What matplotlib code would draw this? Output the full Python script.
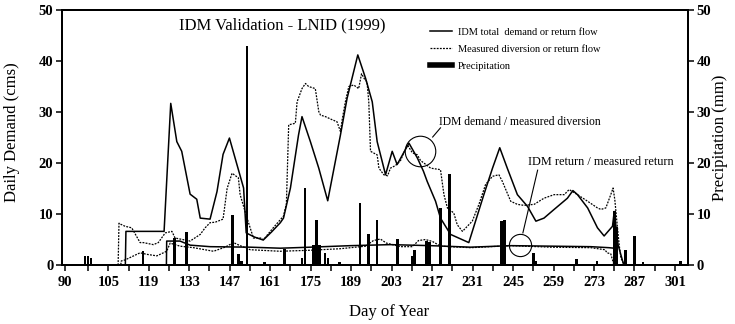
import matplotlib
matplotlib.use("Agg")
import matplotlib.pyplot as plt
from matplotlib.lines import Line2D

plt.rcParams["font.family"] = ["Liberation Serif", "DejaVu Serif"]

# ---- data -------------------------------------------------------------
# IDM total demand (cms)
idm_day = [88.9, 110.9, 111.1, 124.3, 126.6, 128.7, 130.4, 133.3, 135.6, 136.8,
           140.2, 142.6, 144.7, 146.9, 149.5, 151.8, 152.7, 155.5, 158.6, 161.5,
           164.5, 165.6, 168.0, 170.8, 172.0, 174.9, 177.8, 180.9, 185.3, 187.6,
           191.3, 194.0, 196.3, 198.0, 200.9, 203.2, 204.9, 209.0, 211.9, 214.0,
           215.3, 218.2, 219.9, 223.4, 229.7, 234.9, 237.9, 240.4, 243.0, 246.5,
           250.0, 252.9, 255.7, 259.2, 263.8, 265.7, 267.3, 270.8, 274.2, 276.5,
           279.4, 280.0, 281.3, 282.9, 283.3, 305.5]
idm_val = [0, 0, 6.6, 6.6, 31.7, 24.2, 22.3, 13.9, 12.9, 9.2,
           9.0, 14.4, 21.7, 24.9, 19.7, 15.1, 6.3, 5.5, 4.9, 6.5,
           8.3, 9.2, 15.1, 25.5, 29.1, 24.2, 19.0, 12.6, 25.5, 32.7,
           41.2, 36.6, 32.0, 24.2, 17.7, 22.3, 19.7, 23.9, 21.0, 18.4,
           16.4, 12.5, 9.2, 6.0, 4.4, 13.8, 19.0, 23.0, 19.0, 13.8,
           11.5, 8.6, 9.2, 10.9, 13.1, 14.6, 13.8, 11.2, 7.3, 5.7,
           7.6, 10.5, 4.0, 0.8, 0, 0]

# Measured diversion (cms)
div_day = [88.9, 108.4, 108.7, 109.3, 110.8, 113.1, 116.0, 117.1, 120.6, 122.3,
           124.7, 127.0, 128.1, 133.3, 136.8, 138.5, 140.2, 142.0, 144.7, 146.1,
           147.8, 150.0, 150.6, 153.0, 155.2, 157.6, 158.7, 162.2, 165.6, 166.6,
           167.4, 169.7, 170.3, 172.0, 173.2, 174.3, 176.6, 177.8, 178.4, 180.1,
           182.4, 184.1, 185.3, 185.9, 187.0, 188.2, 189.9, 191.6, 192.6, 193.6,
           194.5, 195.1, 195.7, 198.0, 198.6, 200.3, 201.6, 202.6, 204.3, 206.1,
           208.4, 210.2, 211.9, 213.0, 216.5, 219.9, 221.1, 222.3, 224.5, 225.7,
           227.5, 229.7, 230.9, 233.2, 235.5, 237.9, 240.1, 241.3, 243.0, 244.2,
           246.5, 248.8, 252.3, 255.7, 259.2, 262.7, 264.4, 267.3, 270.8, 274.2,
           275.4, 277.1, 278.8, 279.6, 280.2, 280.9, 281.7, 282.3, 283.5, 305.5]
div_val = [0, 0, 8.2, 8.0, 7.6, 7.3, 4.4, 4.4, 4.0, 4.4,
           6.3, 6.6, 5.3, 4.7, 6.0, 7.3, 8.3, 8.4, 9.0, 15.0,
           18.0, 17.1, 13.8, 9.2, 5.3, 5.3, 5.0, 7.4, 9.6, 12.0,
           27.5, 27.8, 32.0, 34.6, 35.6, 35.0, 34.6, 30.1, 29.4, 29.1,
           28.5, 28.1, 26.2, 28.5, 32.0, 35.0, 35.3, 34.6, 37.5, 36.5,
           35.9, 32.0, 22.3, 21.6, 19.0, 17.7, 17.5, 19.0, 19.5, 20.5,
           23.6, 22.0, 21.6, 20.5, 19.0, 18.7, 13.8, 11.2, 10.2, 7.9,
           6.6, 7.9, 8.6, 11.9, 15.8, 17.4, 17.7, 16.4, 14.1, 12.5,
           11.9, 11.7, 11.9, 13.1, 13.8, 13.8, 14.8, 13.8, 12.5, 11.2,
           10.9, 11.2, 13.8, 15.1, 12.8, 8.6, 4.0, 1.4, 0, 0]

# IDM return flow (cms)
ret_day = [88.9, 125.1, 125.2, 129.8, 133.3, 140.2, 154.1, 164.5, 174.9, 188.8,
           202.6, 216.5, 230.3, 244.2, 258.1, 271.9, 278.2, 280.0, 280.2, 305.5]
ret_val = [0, 0, 4.7, 4.7, 3.9, 3.6, 3.5, 3.3, 3.5, 3.8,
           4.0, 3.8, 3.5, 3.8, 3.7, 3.6, 3.4, 3.3, 0, 0]

# Measured return flow (cms)
mret_day = [88.9, 109.3, 109.5, 110.8, 116.0, 118.3, 121.8, 125.2, 126.4, 129.8,
            134.5, 141.4, 145.4, 148.3, 150.6, 154.1, 164.5, 174.9, 185.3, 194.0,
            196.7, 199.1, 201.2, 206.1, 210.2, 212.3, 214.7, 217.2, 219.9, 230.3,
            244.2, 258.1, 271.9, 276.8, 277.5, 278.8, 279.5, 279.9, 305.5]
mret_val = [0, 0, 0.8, 1.0, 2.4, 2.1, 1.8, 2.7, 4.3, 3.7,
            3.4, 2.7, 3.5, 4.4, 3.8, 3.0, 2.7, 2.9, 3.2, 3.7,
            4.8, 5.1, 4.3, 3.6, 3.6, 4.8, 5.0, 4.6, 3.7, 3.4,
            3.8, 3.5, 3.4, 3.0, 2.4, 2.2, 0.8, 0, 0]

# Daily precipitation (mm)
precip_day = [97, 98, 99, 117, 128, 132, 148, 150, 151, 153,
              159, 166, 172, 173, 176, 177, 178, 180, 181, 185,
              192, 195, 198, 205, 210, 211, 215, 216, 220, 223,
              241, 242, 252, 253, 267, 274, 280, 281, 284, 287,
              290, 303]
precip_mm = [1.8, 1.7, 1.4, 2.7, 5.3, 6.5, 9.9, 2.1, 0.8, 43.0,
             0.5, 3.1, 1.3, 15.1, 4.0, 8.9, 4.0, 2.4, 1.4, 0.6,
             12.2, 6.0, 8.9, 5.2, 1.8, 2.9, 4.8, 4.5, 11.2, 17.8,
             8.6, 8.9, 2.4, 0.8, 1.1, 0.8, 10.5, 7.5, 3.0, 5.6,
             0.5, 0.8]

tick_days = [90, 105, 119, 133, 147, 161, 175, 189, 203, 217, 231, 245, 259, 273, 287, 301]
minor_days = [98, 112, 126, 140, 154, 168, 182, 196, 210, 224, 238, 252, 266, 280, 294]
y_ticks = [0, 10, 20, 30, 40, 50]

# annotation anchors (day, cms)
circle_div = (212.7, 22.3)
circle_ret = (247.3, 3.9)
leader_div = ([217.2, 219.9], [25.1, 26.9])
leader_ret = ([248.4, 253.5], [6.3, 18.6])

# ---- figure -----------------------------------------------------------
fig = plt.figure(figsize=(7.35, 3.24), dpi=100)
ax = fig.add_axes([0.084, 0.182, 0.852, 0.787])
ax2 = ax.twinx()

l_idm, = ax.plot(idm_day, idm_val, color="black", lw=1.1)
ax.plot(ret_day, ret_val, color="black", lw=1.1)
l_meas, = ax.plot(div_day, div_val, color="black", lw=0.9, ls=(0, (1.5, 1)))
ax.plot(mret_day, mret_val, color="black", lw=0.9, ls=(0, (1.5, 1)))

ax2.bar(precip_day, precip_mm, width=0.9, color="black")

for a in (ax, ax2):
    a.set_xlim(88.9, 305.5)
    a.set_ylim(0, 50)
    a.set_yticks(y_ticks)
    for s in a.spines.values():
        s.set_linewidth(1.4)

ax.set_xticks(tick_days)
ax.set_xticklabels([str(d) for d in tick_days])
ax.set_xticks(minor_days, minor=True)
ax.tick_params(axis="both", which="both", direction="out", length=4, width=1.1,
               labelsize=10.5)
ax.tick_params(axis="y", pad=2)
ax.tick_params(axis="x", pad=4)
ax2.tick_params(axis="y", direction="out", length=4, width=1.1, labelsize=10.5, pad=2)
for lab in ax.get_xticklabels() + ax.get_yticklabels() + ax2.get_yticklabels():
    lab.set_fontweight("bold")

ax.set_ylabel("Daily Demand (cms)", fontsize=12, va="center")
ax.yaxis.set_label_coords(-0.079, 0.52)
ax2.set_ylabel("Precipitation (mm)", fontsize=12, va="center")
ax2.yaxis.set_label_coords(1.051, 0.5)
ax.set_xlabel("Day of Year", fontsize=12, va="center")
ax.xaxis.set_label_coords(0.523, -0.184)

ax.text(0.352, 0.941, "IDM Validation - LNID (1999)", transform=ax.transAxes,
        ha="center", va="center", fontsize=12)

ax.legend(handles=[l_idm, l_meas, Line2D([], [], color="black", lw=4)],
          labels=["IDM total  demand or return flow",
                  "Measured diversion or return flow",
                  "Precipitation"],
          loc="upper left", bbox_to_anchor=(0.588, 0.932), frameon=False,
          fontsize=7.5, handlelength=2.1, handletextpad=0.6, labelspacing=0.74,
          borderaxespad=0, borderpad=0)

# circled regions with leader lines
ax.plot(*circle_div, marker="o", ms=22, mfc="none", mec="black", mew=0.8)
ax.plot(*leader_div, color="black", lw=0.8)
ax.text(leader_div[0][1] - 0.5, leader_div[1][1], "IDM demand / measured diversion",
        ha="left", va="bottom", fontsize=8.4)

ax.plot(*circle_ret, marker="o", ms=16, mfc="none", mec="black", mew=0.8)
ax.plot(*leader_ret, color="black", lw=0.8)
ax.text(leader_ret[0][1] - 3.4, leader_ret[1][1] + 0.4, "IDM return / measured return",
        ha="left", va="bottom", fontsize=8.8)

fig.savefig("out.png", dpi=100)
